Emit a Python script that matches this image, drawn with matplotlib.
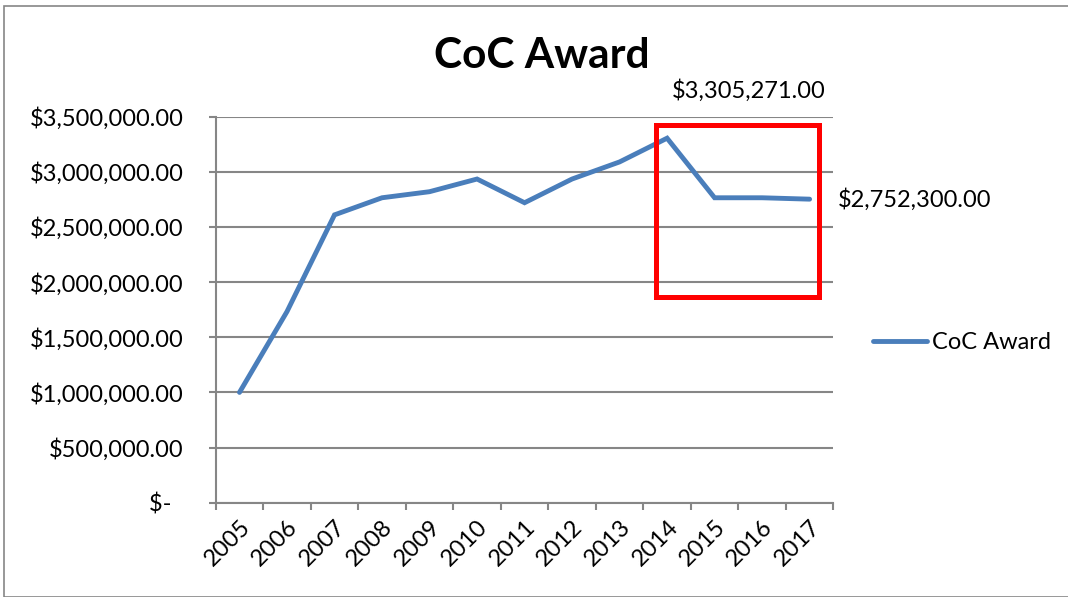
import numpy as np
import matplotlib.pyplot as plt
from matplotlib.patches import Rectangle
from matplotlib.ticker import FuncFormatter, FixedLocator

plt.rcParams['font.family'] = ['Lato', 'DejaVu Sans']

# data
years = ['2005', '2006', '2007', '2008', '2009', '2010', '2011',
         '2012', '2013', '2014', '2015', '2016', '2017']
award = [1000000, 1733000, 2610000, 2765000, 2820000, 2935000, 2720000,
         2935000, 3090000, 3305271, 2765000, 2765000, 2752300]
yticks = [0, 500000, 1000000, 1500000, 2000000, 2500000, 3000000, 3500000]

# highlight box (category index / value units)
box_x = [8.76, 12.19]
box_y = [1864000, 3421000]

blue = '#4A7EBB'
grey = '#868686'
fs = 17

fig = plt.figure(figsize=(10.68, 5.97), dpi=100)
ax = fig.add_axes([0.2020, 0.158, 0.5783, 0.6465])

x = np.arange(len(years))
ax.plot(x, award, color=blue, lw=3.5, solid_capstyle='round',
        solid_joinstyle='miter', label='CoC Award', zorder=3)

ax.set_xlim(-0.5, len(years) - 0.5)
ax.set_ylim(0, 3500000)

def money(v, pos):
    if v == 0:
        return '$-  '
    return '${:,.2f}'.format(v)

ax.yaxis.set_major_locator(FixedLocator(yticks))
ax.yaxis.set_major_formatter(FuncFormatter(money))
ax.grid(axis='y', color=grey, lw=1.5)
ax.set_axisbelow(True)

ax.set_xticks(np.arange(len(years) + 1) - 0.5)
ax.set_xticklabels([])
ax.set_xticks(x, minor=True)
ax.set_xticklabels(years, minor=True, rotation=45, ha='right',
                   va='top', rotation_mode='anchor')
ax.tick_params(axis='x', which='minor', length=0, pad=10, labelsize=fs)
ax.tick_params(axis='x', which='major', length=5, width=1.5, color=grey,
               direction='out')
ax.tick_params(axis='y', length=5, width=1.5, color=grey, labelsize=fs,
               pad=18)

for s in ['top', 'right']:
    ax.spines[s].set_visible(False)
for s in ['left', 'bottom']:
    ax.spines[s].set_color(grey)
    ax.spines[s].set_linewidth(1.5)

# red highlight box
ax.add_patch(Rectangle((box_x[0], box_y[0]), box_x[1] - box_x[0],
                       box_y[1] - box_y[0], fill=False, ec='#FF0000',
                       lw=3.6, clip_on=False, zorder=4))

# point labels
ax.annotate('${:,.2f}'.format(award[9]), xy=(9, award[9]),
            xytext=(749, 597 - 91), textcoords='figure pixels',
            ha='center', va='center', fontsize=fs, annotation_clip=False)
ax.annotate('${:,.2f}'.format(award[12]), xy=(12, award[12]),
            xytext=(838, 597 - 200), textcoords='figure pixels',
            ha='left', va='center', fontsize=fs, annotation_clip=False)

fig.text(542 / 1068, 1 - 56 / 597, 'CoC Award', ha='center', va='center',
         fontsize=30.5, fontweight='bold')

leg = ax.legend(loc='center left', bbox_to_anchor=(1.029, 0.415),
                frameon=False, fontsize=fs, handlelength=2.3,
                handletextpad=0.2)

# chart frame
fig.add_artist(Rectangle((4 / 1068, 0.0), 1.2, 1 - 6 / 597,
                         transform=fig.transFigure, fill=False,
                         ec=grey, lw=1.2))

fig.savefig('out.png', dpi=100)
